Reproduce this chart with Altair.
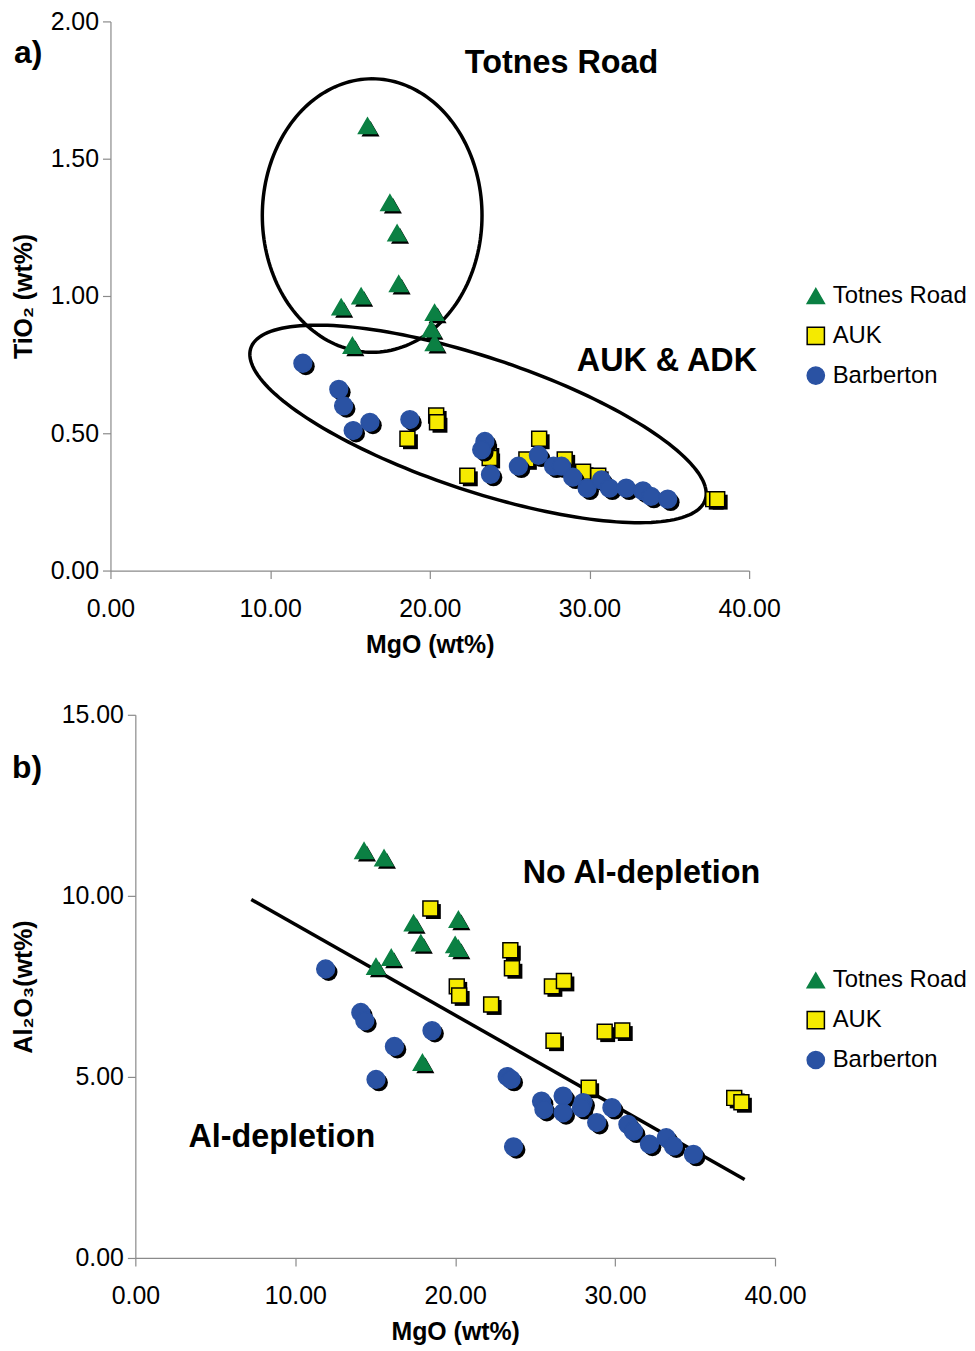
import altair as alt
import numpy as np
import pandas as pd

FONT = "Liberation Sans"
SERIES = ["Totnes Road", "AUK", "Barberton"]
FILLS = ["#0b8043", "#f5ea00", "#2a52a3"]
STROKES = ["#0b8043", "#000000", "#2a52a3"]
SHAPES = ["triangle-up", "square", "circle"]
SIZES = [330, 225, 320]

# ---------------- panel a : TiO2 vs MgO ----------------
tr_a_mgo = [16.1, 17.5, 17.95, 18.05, 15.7, 14.45, 20.3, 20.1, 20.3, 15.15]
tr_a_ti = [1.62, 1.34, 1.23, 1.045, 1.00, 0.96, 0.94, 0.88, 0.83, 0.82]
auk_a_mgo = [20.4, 20.45, 18.6, 23.7, 23.75, 22.35, 26.85, 26.05, 28.45, 29.6, 30.55, 37.75, 38.0]
auk_a_ti = [0.565, 0.54, 0.48, 0.43, 0.41, 0.345, 0.48, 0.405, 0.405, 0.36, 0.345, 0.26, 0.26]
bar_a_mgo = [12.05, 14.3, 14.6, 15.2, 16.25, 18.75, 23.45, 23.25, 23.8, 25.55, 26.8,
             27.75, 28.25, 28.95, 29.85, 30.75, 31.25, 32.3, 33.35, 33.85, 34.9]
bar_a_ti = [0.755, 0.66, 0.60, 0.51, 0.54, 0.55, 0.47, 0.44, 0.35, 0.38, 0.42,
            0.38, 0.38, 0.34, 0.30, 0.33, 0.30, 0.30, 0.29, 0.27, 0.26]

# ellipses (centre, semi-axis vectors in data units)
ell1_center = (16.39, 1.293)
ell1_u = (0.0, 0.498)
ell1_v = (6.88, 0.0)
ell2_center = (23.02, 0.534)
ell2_u = (14.23, -0.229)
ell2_v = (-1.321, 0.2775)

a_labels = ["Totnes Road", "AUK & ADK"]
a_label_mgo = [28.25, 34.85]
a_label_ti = [1.85, 0.764]

# ---------------- panel b : Al2O3 vs MgO ----------------
tr_b_mgo = [14.3, 15.55, 17.4, 20.2, 17.85, 20.0, 20.2, 16.0, 15.05, 17.95]
tr_b_al = [11.25, 11.05, 9.25, 9.35, 8.7, 8.65, 8.55, 8.3, 8.05, 5.4]
auk_b_mgo = [18.45, 20.1, 20.25, 22.25, 23.45, 23.55, 26.05, 26.8, 26.15, 29.35, 30.45, 28.35, 37.45, 37.9]
auk_b_al = [9.65, 7.5, 7.25, 7.0, 8.5, 8.0, 7.5, 7.65, 6.0, 6.25, 6.28, 4.7, 4.42, 4.3]
bar_b_mgo = [11.9, 14.1, 14.35, 18.55, 16.2, 15.05, 23.25, 23.5, 25.4, 25.55, 26.75, 26.75,
             28.0, 27.9, 28.85, 29.8, 30.8, 31.15, 32.15, 33.2, 33.65, 34.9, 23.65]
bar_b_al = [7.98, 6.78, 6.55, 6.28, 5.84, 4.93, 5.01, 4.93, 4.33, 4.1, 4.47, 4.01,
            4.29, 4.15, 3.74, 4.15, 3.69, 3.5, 3.14, 3.32, 3.09, 2.86, 3.07]

line_b_mgo = [7.25, 38.1]
line_b_al = [9.9, 2.17]

b_labels = ["No Al-depletion", "Al-depletion"]
b_label_mgo = [31.65, 9.16]
b_label_al = [10.62, 3.33]

X_TICKS = [0, 10, 20, 30, 40]
YA_TICKS = [0, 0.5, 1.0, 1.5, 2.0]
YB_TICKS = [0, 5, 10, 15]


def ellipse_df(center, u, v, n=181):
    t = np.linspace(0, 2 * np.pi, n)
    return pd.DataFrame({
        "mgo": center[0] + u[0] * np.cos(t) + v[0] * np.sin(t),
        "val": center[1] + u[1] * np.cos(t) + v[1] * np.sin(t),
        "k": np.arange(n),
    })


def panel(groups, y_title, y_ticks, y_domain, y_title_pad, legend_xy, extra_layers,
          width, height, shift):
    # "shift" moves the drawn plot frame right inside the view
    X = alt.X("mgo:Q", scale=alt.Scale(domain=[0, 40], range=[shift, width], nice=False, zero=False),
              axis=alt.Axis(values=X_TICKS, format=".2f", title="MgO (wt%)",
                            labelPadding=18, titlePadding=11))
    Y = alt.Y("val:Q", scale=alt.Scale(domain=y_domain, nice=False, zero=False),
              axis=alt.Axis(values=y_ticks, format=".2f", title=y_title, offset=-shift,
                            labelPadding=4, titlePadding=y_title_pad))
    leg = alt.Legend(title=None, orient="none", legendX=legend_xy[0], legendY=legend_xy[1],
                     labelFontSize=24, labelFont=FONT, symbolSize=300, rowPadding=16,
                     labelOffset=5, symbolStrokeWidth=1.5, labelColor="black")
    layers = list(extra_layers["under"](X, Y))
    for s, shp, size, (mg, vals) in zip(SERIES, SHAPES, SIZES, groups):
        df = pd.DataFrame({"mgo": mg, "val": vals, "series": s})
        base = alt.Chart(df)
        shadow = base.mark_point(filled=True, color="black", opacity=1, shape=shp,
                                 size=size, xOffset=3, yOffset=3).encode(x=X, y=Y)
        front = base.mark_point(filled=True, opacity=1, size=size, strokeWidth=1.5).encode(
            x=X, y=Y,
            shape=alt.Shape("series:N", scale=alt.Scale(domain=SERIES, range=SHAPES), legend=leg),
            fill=alt.Fill("series:N", scale=alt.Scale(domain=SERIES, range=FILLS), legend=leg),
            stroke=alt.Stroke("series:N", scale=alt.Scale(domain=SERIES, range=STROKES), legend=leg),
        )
        layers += [shadow, front]
    layers += list(extra_layers["over"](X, Y))
    return alt.layer(*layers).properties(width=width, height=height)


def a_under(X, Y):
    out = []
    for c, u, v in [(ell1_center, ell1_u, ell1_v), (ell2_center, ell2_u, ell2_v)]:
        out.append(alt.Chart(ellipse_df(c, u, v)).mark_line(color="black", strokeWidth=3.5)
                   .encode(x=X, y=Y, order="k:Q"))
    return out


def a_over(X, Y):
    txt = alt.Chart(pd.DataFrame({"mgo": a_label_mgo, "val": a_label_ti, "t": a_labels})).mark_text(
        font=FONT, fontSize=32.5, fontWeight="bold", color="black", align="center", baseline="middle"
    ).encode(x=X, y=Y, text="t:N")
    tag = alt.Chart(pd.DataFrame({"t": ["a)"]})).mark_text(
        font=FONT, fontSize=32, fontWeight="bold", color="black", align="left", baseline="middle"
    ).encode(x=alt.value(-97), y=alt.value(32), text="t:N")
    return [txt, tag]


def b_under(X, Y):
    ln = alt.Chart(pd.DataFrame({"mgo": line_b_mgo, "val": line_b_al})).mark_line(
        color="black", strokeWidth=3.5).encode(x=X, y=Y)
    return [ln]


def b_over(X, Y):
    txt = alt.Chart(pd.DataFrame({"mgo": b_label_mgo, "val": b_label_al, "t": b_labels})).mark_text(
        font=FONT, fontSize=32.5, fontWeight="bold", color="black", align="center", baseline="middle"
    ).encode(x=X, y=Y, text="t:N")
    tag = alt.Chart(pd.DataFrame({"t": ["b)"]})).mark_text(
        font=FONT, fontSize=32, fontWeight="bold", color="black", align="left", baseline="middle"
    ).encode(x=alt.value(-99), y=alt.value(54), text="t:N")
    return [txt, tag]


pa = panel([(tr_a_mgo, tr_a_ti), (auk_a_mgo, auk_a_ti), (bar_a_mgo, bar_a_ti)],
           "TiO\u2082 (wt%)", YA_TICKS, [0, 2], 14, (697, 264),
           {"under": a_under, "over": a_over}, 642, 552, 0)
pb = panel([(tr_b_mgo, tr_b_al), (auk_b_mgo, auk_b_al), (bar_b_mgo, bar_b_al)],
           "Al\u2082O\u2083(wt%)", YB_TICKS, [0, 15], 25, (697, 255),
           {"under": b_under, "over": b_over}, 668, 546, 25)

RES_S = dict(x="independent", y="independent", fill="independent",
             stroke="independent", shape="independent")
RES_L = dict(fill="independent", stroke="independent", shape="independent")

chart = alt.vconcat(pa, pb, spacing=46).resolve_scale(**RES_S).resolve_legend(**RES_L).properties(
    padding={"left": 3, "top": -2, "right": 0, "bottom": -3}
).configure_view(stroke=None).configure_axis(
    grid=False, domainColor="#8a8a8a", tickColor="#8a8a8a", domainWidth=1.2, tickWidth=1.2,
    tickSize=8, labelFont=FONT, titleFont=FONT, labelFontSize=25, titleFontSize=25,
    titleFontWeight="bold", labelColor="black", titleColor="black", labelFlush=False,
    labelOverlap=False
)

chart.save("out.html", embed_options={"renderer": "svg", "actions": False})
